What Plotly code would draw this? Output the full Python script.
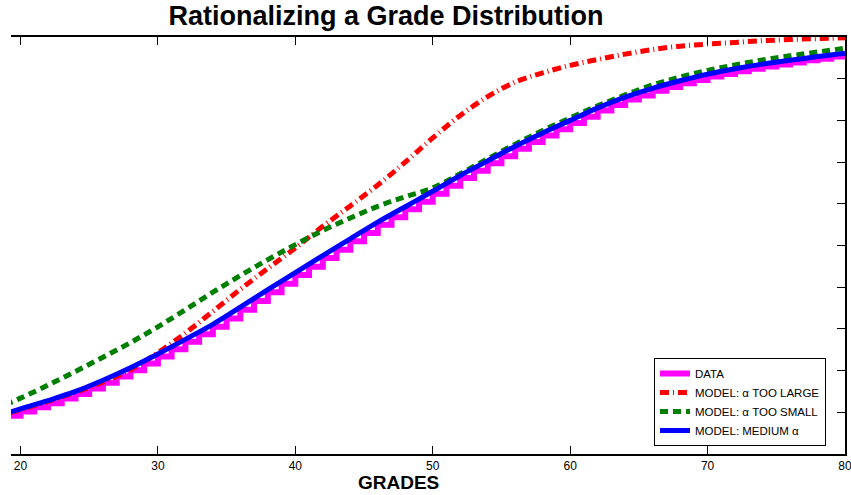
import plotly.graph_objects as go

# ---- data ----
grades = list(range(19, 81))
data_cdf = [0.092, 0.102, 0.112, 0.122, 0.133, 0.144, 0.157, 0.171, 0.186, 0.201,
            0.217, 0.234, 0.251, 0.269, 0.287, 0.305, 0.325, 0.346, 0.367, 0.388,
            0.408, 0.429, 0.449, 0.470, 0.490, 0.510, 0.530, 0.550, 0.568, 0.587,
            0.605, 0.624, 0.643, 0.662, 0.679, 0.697, 0.714, 0.732, 0.748, 0.764,
            0.779, 0.794, 0.809, 0.824, 0.837, 0.850, 0.860, 0.871, 0.880, 0.889,
            0.897, 0.905, 0.911, 0.918, 0.924, 0.929, 0.934, 0.939, 0.944, 0.948,
            0.953, 0.958]

model_x = list(range(18, 81, 2))
model_large = [0.088, 0.106, 0.126, 0.148, 0.172, 0.202, 0.243, 0.290, 0.342, 0.395,
               0.445, 0.494, 0.546, 0.595, 0.645, 0.700, 0.758, 0.812, 0.857, 0.892,
               0.914, 0.932, 0.946, 0.959, 0.970, 0.978, 0.983, 0.987, 0.991, 0.994,
               0.996, 0.998]
model_small = [0.106, 0.134, 0.165, 0.198, 0.232, 0.267, 0.305, 0.346, 0.388, 0.428,
               0.466, 0.502, 0.536, 0.566, 0.594, 0.617, 0.638, 0.672, 0.708, 0.743,
               0.776, 0.806, 0.835, 0.861, 0.885, 0.904, 0.920, 0.933, 0.945, 0.955,
               0.964, 0.973]
model_medium = [0.088, 0.108, 0.128, 0.150, 0.177, 0.207, 0.240, 0.275, 0.311, 0.352,
                0.394, 0.435, 0.476, 0.516, 0.556, 0.593, 0.630, 0.668, 0.703, 0.738,
                0.770, 0.800, 0.830, 0.856, 0.877, 0.895, 0.911, 0.924, 0.935, 0.944,
                0.953, 0.961]

x_ticks = [20, 30, 40, 50, 60, 70, 80]
labels = ["DATA", "MODEL: \u03b1 TOO LARGE", "MODEL: \u03b1 TOO SMALL", "MODEL: MEDIUM \u03b1"]

FONT = "Liberation Sans, Arial, sans-serif"

fig = go.Figure()
fig.add_trace(go.Scatter(x=grades, y=data_cdf, mode="lines", name=labels[0],
                         line=dict(color="#FF00FF", width=6, shape="hv")))
fig.add_trace(go.Scatter(x=model_x, y=model_large, mode="lines", name=labels[1],
                         line=dict(color="#FF0000", width=5, dash="9px,4px,1px,4px",
                                   shape="spline")))
fig.add_trace(go.Scatter(x=model_x, y=model_small, mode="lines", name=labels[2],
                         line=dict(color="#007F00", width=5, dash="8px,5px",
                                   shape="spline")))
fig.add_trace(go.Scatter(x=model_x, y=model_medium, mode="lines", name=labels[3],
                         line=dict(color="#0000FF", width=5, shape="spline")))

fig.update_layout(
    width=851, height=495,
    margin=dict(l=11, r=6, t=37, b=41, autoexpand=False),
    paper_bgcolor="white", plot_bgcolor="white",
    font=dict(family=FONT, color="black"),
    title=dict(text="<b>Rationalizing a Grade Distribution</b>",
               font=dict(family=FONT, size=27, color="black"),
               x=386 / 851, xanchor="center", xref="container",
               y=1 - 16 / 495, yanchor="middle", yref="container"),
    showlegend=True,
    legend=dict(x=(826 - 11) / 834, xanchor="right", y=(454 - 446) / 417, yanchor="bottom",
                bgcolor="white", bordercolor="black", borderwidth=1,
                font=dict(family=FONT, size=11.5, color="black")),
    xaxis=dict(range=[19.31, 80], tickvals=x_ticks, ticks="inside", ticklen=8,
               tickcolor="black", tickwidth=1, showline=True, linecolor="black",
               linewidth=1.5, mirror="ticks", showgrid=False, zeroline=False,
               ticklabeloverflow="allow", automargin=False,
               tickfont=dict(family=FONT, size=12, color="black")),
    yaxis=dict(range=[0, 1], dtick=0.1, tick0=0, side="right", ticks="inside",
               ticklen=8, tickcolor="black", showticklabels=False, showline=True,
               linecolor="black", linewidth=1.5, showgrid=False, zeroline=False,
               automargin=False),
    annotations=[dict(text="<b>GRADES</b>", x=(398 - 11) / 834, xref="paper",
                      y=-(482 - 454) / 417, yref="paper", xanchor="center",
                      yanchor="middle", showarrow=False,
                      font=dict(family=FONT, size=19, color="black"))],
)

fig.write_html("out.html")
